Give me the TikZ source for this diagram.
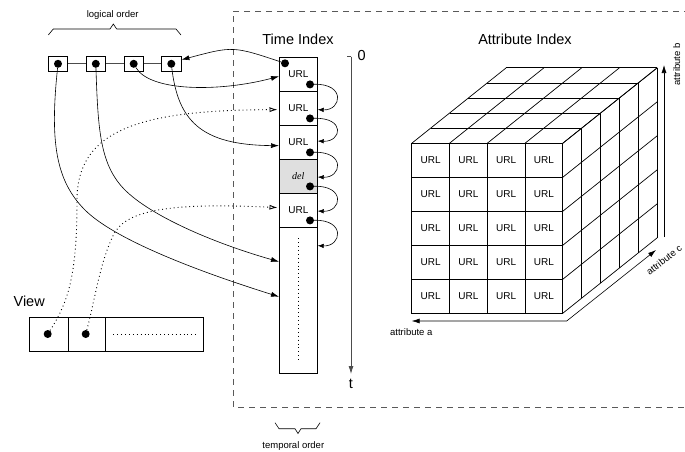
\documentclass[tikz,border=0pt]{standalone}
\usepackage{fontspec}
\setmainfont{Liberation Sans}
\newfontfamily\timesfont{Liberation Serif}
\usetikzlibrary{arrows.meta,calc}

\begin{document}
\begin{tikzpicture}[x=1pt,y=-1pt,
  >={Latex[length=8pt,width=5pt]},
  lbl/.style={font=\fontsize{14.5}{16}\selectfont},
  smalltxt/.style={font=\fontsize{9.5}{11}\selectfont},
  urltxt/.style={font=\fontsize{10}{12}\selectfont},
  cellbox/.style={draw=black, line width=0.7pt, minimum width=38pt, minimum height=34pt,
                  inner sep=0pt, anchor=north west, urltxt},
  cubecell/.style={draw=black, line width=0.7pt, minimum width=37.75pt, minimum height=34pt,
                   inner sep=0pt, urltxt},
  ptr/.style={circle, fill=black, minimum size=8pt, inner sep=0pt},
  lbox/.style={draw, line width=0.7pt, minimum width=19.5pt, minimum height=15.7pt, inner sep=0pt},
  vbox/.style={draw, line width=0.7pt, minimum height=33.7pt, inner sep=0pt, anchor=north west},
  ptrline/.style={line width=0.6pt, ->},
  viewline/.style={line width=0.9pt, dash pattern=on 0.9pt off 3pt,
                   -{Latex[open,length=8pt,width=5pt]}},
  nextline/.style={line width=0.6pt, -{Latex[length=6pt,width=4.5pt]}},
  cubeline/.style={line width=0.7pt},
  dotfill/.style={line width=0.9pt, dash pattern=on 0.9pt off 3pt},
]
\useasboundingbox (0,0) rectangle (685,452);

% enclosing dashed frame of the index
\draw[gray!70!black, line width=0.7pt, dash pattern=on 6pt off 5pt]
  (690,11) -- (233.3,11) -- (233.3,407.3) -- (690,407.3);

% ---------- titles ----------
\node[lbl, anchor=base] (ti) at (298,45) {Time Index};
\node[lbl, anchor=base] (ai) at (525,45) {Attribute Index};

% ---------- time index column ----------
\node[cellbox] (c1) at (279,56.7) {URL};
\node[cellbox] (c2) at (279,90.7) {URL};
\node[cellbox] (c3) at (279,124.7) {URL};
\node[cellbox, fill=gray!25] (c4) at (279,158.7) {\timesfont\itshape del};
\node[cellbox] (c5) at (279,192.7) {URL};
\node[cellbox, minimum height=146.6pt] (cb) at (279,226.7) {};
\draw[dotfill] ([yshift=-11.5pt]cb.north) -- ([yshift=11.5pt]cb.south);

% pointers stored in the cells
\node[ptr] (hd) at ([xshift=6pt,yshift=-6.6pt]c1.north west) {};
\node[ptr] (d1) at ([xshift=-7.7pt,yshift=7pt]c1.south east) {};
\node[ptr] (d2) at ([xshift=-7.7pt,yshift=7pt]c2.south east) {};
\node[ptr] (d3) at ([xshift=-7.7pt,yshift=7pt]c3.south east) {};
\node[ptr] (d4) at ([xshift=-7.7pt,yshift=7pt]c4.south east) {};
\node[ptr] (d5) at ([xshift=-7.7pt,yshift=7pt]c5.south east) {};

% next-entry links
\draw[nextline] (d1) .. controls +(36,-1) and +(24,1) .. ([yshift=-1.6pt]c2.east);
\draw[nextline] (d2) .. controls +(36,-1) and +(24,1) .. ([yshift=1pt]c3.east);
\draw[nextline] (d3) .. controls +(36,-1) and +(24,1) .. ([yshift=-1pt]c4.east);
\draw[nextline] (d4) .. controls +(36,-1) and +(24,1) .. ([yshift=-1pt]c5.east);
\draw[nextline] (d5) .. controls +(36,-1) and +(24,1) .. ([yshift=-19pt]cb.north east);

% ---------- time axis ----------
\coordinate (t0) at (351,56.7);
\coordinate (tend) at (351,374);
\draw[gray!60!black, line width=0.8pt, ->] (t0) -- (tend);
\draw[gray!60!black, line width=0.8pt] (t0) -- ++(-4,0);
\node[lbl, anchor=base] (zero) at (361.7,60) {0};
\node[lbl, anchor=base] (tt) at (351,388.3) {t};

% ---------- logical order list ----------
\node[lbox] (lo1) at (58,63.8) {};
\node[lbox] (lo2) at (95.8,63.8) {};
\node[lbox] (lo3) at (133.7,63.8) {};
\node[lbox] (lo4) at (171.3,63.8) {};
\draw[gray!60!black, line width=0.7pt] (lo1) -- (lo2) (lo2) -- (lo3) (lo3) -- (lo4);
\node[ptr] (ld1) at (lo1.center) {};
\node[ptr] (ld2) at (lo2.center) {};
\node[ptr] (ld3) at (lo3.center) {};
\node[ptr] (ld4) at (lo4.center) {};

\draw[line width=0.6pt] (48.3,35) -- (53.3,29) -- (110,29) -- (113.3,24) -- (116.7,29)
  -- (176,29) -- (181,35);
\node[smalltxt, anchor=base] (lord) at (112.7,17.3) {logical order};

% links between the list and the time index
\draw[ptrline] (hd) .. controls (233,46) .. ([yshift=4pt]lo4.east);
\draw[ptrline] (ld3) .. controls (150,92) and (220,92) .. ([yshift=-2.3pt]c1.west);
\draw[ptrline] (ld4) .. controls (178,120) and (200,145) .. ([yshift=-3.6pt]c3.west);
\draw[ptrline] (ld1) .. controls (50,140) and (55,180) .. (85,210)
  .. controls (115,240) and (200,272) .. ([yshift=-70pt]cb.north west);
\draw[ptrline] (ld2) .. controls (98,130) and (100,165) .. (125,190)
  .. controls (150,215) and (210,242) .. ([yshift=-35pt]cb.north west);

% ---------- view ----------
\node[lbl, anchor=base] (view) at (29.2,306) {View};
\node[vbox, minimum width=38.4pt] (v1) at (29.3,317.3) {};
\node[vbox, minimum width=37.6pt] (v2) at (67.7,317.3) {};
\node[vbox, minimum width=98pt] (v3) at (105.3,317.3) {};
\node[ptr] (vd1) at (47.7,334) {};
\node[ptr] (vd2) at (85.7,334) {};
\draw[dotfill] ([xshift=8pt]v3.west) -- ([xshift=-5pt]v3.east);

\draw[viewline, shorten >=1.5pt] (vd1) .. controls (70,300) and (77,270) .. (77,200)
  .. controls (77,130) and (140,110) .. ([yshift=-1.6pt]c2.west);
\draw[viewline, shorten >=1.5pt] (vd2) .. controls (95,300) and (100,260) .. (115,232)
  .. controls (130,208) and (180,203) .. ([yshift=2.4pt]c5.west);

% ---------- attribute index cube ----------
\foreach \i in {0,...,3}
  \foreach \j in {0,...,4}
    \node[cubecell] (u\i\j) at (411.7+37.75*\i+18.875, 143.3+34*\j+17) {URL};
% top face
\foreach \k in {1,...,5}
  \draw[cubeline] (411.7+18.9*\k, 143.3-15.1*\k) -- ++(151,0);
\foreach \i in {0,...,4}
  \draw[cubeline] (411.7+37.75*\i, 143.3) -- ++(94.5,-75.5);
% right face
\foreach \k in {1,...,5}
  \draw[cubeline] (562.7+18.9*\k, 143.3-15.1*\k) -- ++(0,170);
\foreach \j in {0,...,5}
  \draw[cubeline] (562.7, 143.3+34*\j) -- ++(94.5,-75.5);

% attribute axes
\coordinate (axa) at (411.7,321);
\coordinate (axo) at (566.7,321);
\coordinate (axc) at (656,250);
\coordinate (axb0) at (664,237);
\coordinate (axb) at (664,65);
\draw[line width=0.6pt, <->] (axa) -- (axo) -- (axc);
\draw[line width=0.6pt, ->] (axb0) -- (axb);
\node[smalltxt, anchor=base] (la) at (411.3,335) {attribute a};
\node[smalltxt, rotate=90] (lb) at (676.7,64.5) {attribute b};
\node[smalltxt, rotate=38, inner sep=1pt] (lc) at (664,260) {attribute c};

% ---------- temporal order brace ----------
\draw[line width=0.6pt] (275,422.7) -- (279,428.7) -- (295,428.7) -- (298,433.5)
  -- (301,428.7) -- (316,428.7) -- (320,422.7);
\node[smalltxt, anchor=base] (tord) at (293.3,448.3) {temporal order};
\end{tikzpicture}
\end{document}
